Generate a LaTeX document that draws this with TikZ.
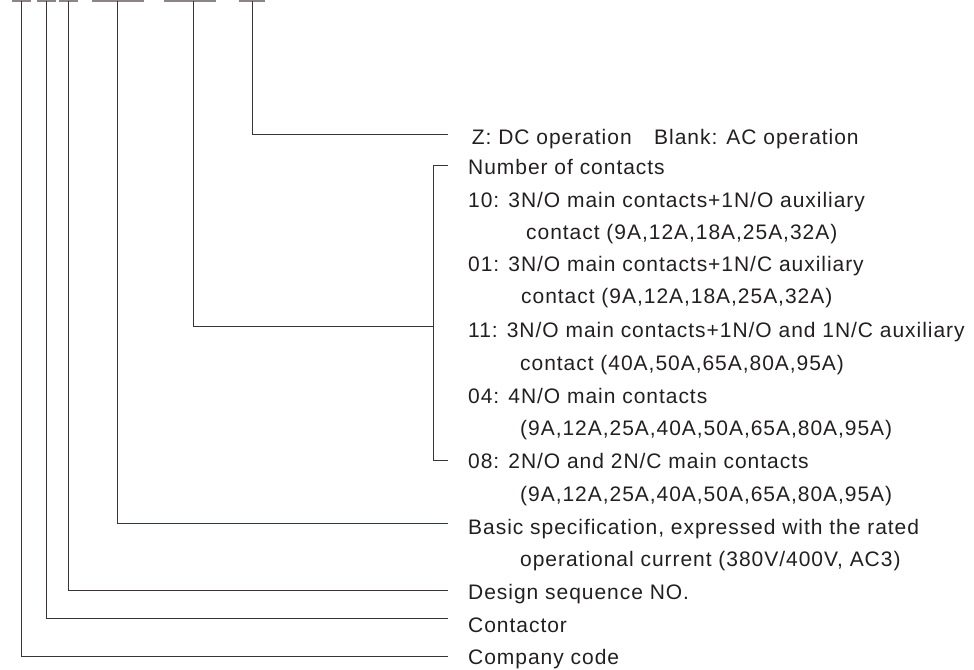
\documentclass[tikz,border=0pt]{standalone}
\usepackage{fontspec}
\setmainfont[LetterSpace=4.6]{Liberation Sans}
\definecolor{ink}{HTML}{231F20}
\definecolor{wirec}{HTML}{3A3435}
\definecolor{barc}{HTML}{8C8586}
\begin{document}
\begin{tikzpicture}[x=1pt,y=-1pt,
  lbl/.style={anchor=base west, inner sep=0pt, font=\fontsize{21}{25}\selectfont, text=ink},
  wire/.style={draw=wirec, line width=1pt},
  topbar/.style={draw=barc, line width=2.2pt}]
\useasboundingbox (0,0) rectangle (974,669);
% top bars (cut-off code underlines)
\draw[topbar] (12,1) -- (31,1);
\draw[topbar] (36.7,1) -- (55.7,1);
\draw[topbar] (59.3,1) -- (78.3,1);
\draw[topbar] (92,1) -- (144,1);
\draw[topbar] (164,1) -- (216,1);
\draw[topbar] (238.7,1) -- (265,1);
% top ends
\coordinate (t1) at (21.7,1);
\coordinate (t2) at (46.3,1);
\coordinate (t3) at (68,1);
\coordinate (t4) at (117.3,1);
\coordinate (t5) at (193,1);
\coordinate (t6) at (252.3,1);
% free ends
\coordinate (e6) at (448,134);
\coordinate (e4) at (448,523);
\coordinate (e3) at (448,590);
\coordinate (e2) at (448,618);
\coordinate (e1) at (448,656);
\coordinate (k1) at (448,165);
\coordinate (k2) at (433.5,165);
\coordinate (k3) at (433.5,460.7);
\coordinate (k4) at (448,460.7);
\coordinate (m5) at (433.5,326);
% texts
\node[lbl] (z)  at (471.7,144.5) {Z: DC operation};
\node[lbl] (zb) at (654,144.5) {Blank: AC operation};
\node[lbl] (n0) at (468,174.5) {Number of contacts};
\node[lbl] (n1) at (468,207.5) {10: 3N/O main contacts+1N/O auxiliary};
\node[lbl] (n1b) at (526,239.5) {contact (9A,12A,18A,25A,32A)};
\node[lbl] (n2) at (468,271.5) {01: 3N/O main contacts+1N/C auxiliary};
\node[lbl] (n2b) at (521,303.5) {contact (9A,12A,18A,25A,32A)};
\node[lbl] (n3) at (468,337.5) {11: 3N/O main contacts+1N/O and 1N/C auxiliary};
\node[lbl] (n3b) at (520,370.5) {contact (40A,50A,65A,80A,95A)};
\node[lbl] (n4) at (468,403.5) {04: 4N/O main contacts};
\node[lbl] (n4b) at (520,435.5) {(9A,12A,25A,40A,50A,65A,80A,95A)};
\node[lbl] (n5) at (468,468.5) {08: 2N/O and 2N/C main contacts};
\node[lbl] (n5b) at (520,501.5) {(9A,12A,25A,40A,50A,65A,80A,95A)};
\node[lbl] (bs) at (468,534.5) {Basic specification, expressed with the rated};
\node[lbl] (bsb) at (520,566.5) {operational current (380V/400V, AC3)};
\node[lbl] (ds) at (468,599.5) {Design sequence NO.};
\node[lbl] (ct) at (468,632.5) {Contactor};
\node[lbl] (cc) at (468,664.5) {Company code};
% connectors
\draw[wire] (t6) |- (e6);
\draw[wire] (k1) -- (k2) -- (k3) -- (k4);
\draw[wire] (t5) |- (m5);
\draw[wire] (t4) |- (e4);
\draw[wire] (t3) |- (e3);
\draw[wire] (t2) |- (e2);
\draw[wire] (t1) |- (e1);
\end{tikzpicture}
\end{document}
